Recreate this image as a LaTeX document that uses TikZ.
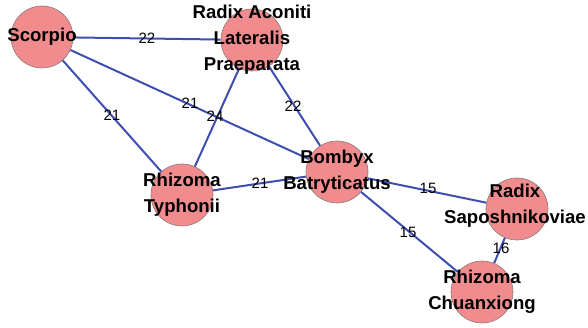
\documentclass[tikz,border=0pt]{standalone}
\usepackage{fontspec}
\setmainfont{Liberation Sans}
\begin{document}
\begin{tikzpicture}[x=1pt,y=-1pt,
  herb/.style={circle,minimum size=62pt,inner sep=0pt,fill=herbfill,draw=herbline,line width=0.6pt},
  herbname/.style={font=\fontsize{18.6}{26}\selectfont\bfseries,align=center,text=black,inner sep=0pt},
  link/.style={draw=linkblue,line width=2pt},
  weight/.style={font=\fontsize{15}{15}\selectfont,text=black,inner sep=0pt}]
\definecolor{herbfill}{RGB}{240,140,142}
\definecolor{herbline}{RGB}{140,120,120}
\definecolor{linkblue}{RGB}{62,78,176}
\useasboundingbox (0,0) rectangle (588,328);
% herb nodes (circles)
\node[herb] (sc) at (42,37) {};
\node[herb] (ra) at (252,40) {};
\node[herb] (bb) at (337,172) {};
\node[herb] (rt) at (182,195) {};
\node[herb] (rs) at (517,209) {};
\node[herb] (rc) at (482,292) {};
% compatibility links with their weights
\path[link] (sc) -- (ra);
\path[link] (sc) -- (bb);
\path[link] (sc) -- (rt);
\path[link] (ra) -- (rt);
\path[link] (ra) -- (bb);
\path[link] (rt) -- (bb);
\path[link] (bb) -- (rs);
\path[link] (bb) -- (rc);
\path[link] (rs) -- (rc);
\node[weight] (w1) at (147,38) {22};
\node[weight] (w2) at (190,103) {21};
\node[weight] (w3) at (112,115) {21};
\node[weight] (w4) at (215,116) {24};
\node[weight] (w5) at (293,106) {22};
\node[weight] (w6) at (260,183) {21};
\node[weight] (w7) at (428,188) {15};
\node[weight] (w8) at (408,232) {15};
\node[weight] (w9) at (501,248) {16};
% herb names
\node[herbname] (tsc) at (42,37) {Scorpio};
\node[herbname] (tra) at (252,40) {Radix Aconiti\\Lateralis\\Praeparata};
\node[herbname] (tbb) at (337,172) {Bombyx\\Batryticatus};
\node[herbname] (trt) at (182,195) {Rhizoma\\Typhonii};
\node[herbname] (trs) at (515,206) {Radix\\Saposhnikoviae};
\node[herbname] (trc) at (482,292) {Rhizoma\\Chuanxiong};
\end{tikzpicture}
\end{document}
